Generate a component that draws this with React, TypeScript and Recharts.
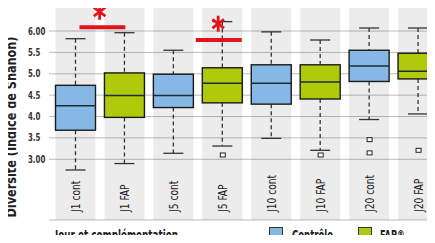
import {
  ComposedChart,
  Bar,
  Scatter,
  XAxis,
  YAxis,
  CartesianGrid,
  ReferenceLine,
  ReferenceDot,
} from "recharts";

const categories = ["J1 cont", "J1 FAP", "J5 cont", "J5 FAP", "J10 cont", "J10 FAP", "J20 cont", "J20 FAP"];
const groups = ["cont", "fap", "cont", "fap", "cont", "fap", "cont", "fap"];
const mins = [2.75, 2.9, 3.14, 3.31, 3.49, 3.21, 3.93, 4.06];
const q1s = [3.68, 3.98, 4.21, 4.32, 4.29, 4.41, 4.82, 4.88];
const medians = [4.25, 4.49, 4.49, 4.78, 4.78, 4.81, 5.18, 5.06];
const q3s = [4.73, 5.02, 4.99, 5.14, 5.21, 5.21, 5.55, 5.48];
const maxs = [5.82, 5.96, 5.55, 6.22, 5.98, 5.79, 6.07, 6.07];
const outliersA = [null, null, null, 3.1, null, 3.1, 3.46, 3.21];
const outliersB = [null, null, null, null, null, null, 3.15, null];

const yTicks = [3, 3.5, 4, 4.5, 5, 5.5, 6];
const yTickLabels = ["3.00", "3.5", "4.0", "4.5", "5.0", "5.5", "6.00"];

// significance markers, x in category units (0 = left edge of J1 cont band)
const sigBars = [
  { x1: 0.5, x2: 1.32, y: 6.087 },
  { x1: 2.58, x2: 3.4, y: 5.79 },
];
const sigStars = [
  { x: 0.86, y: 6.45 },
  { x: 2.98, y: 6.17 },
];

const legendItems = [
  { key: "cont", label: "Contrôle" },
  { key: "fap", label: "FAP®" },
];

const COLORS: Record<string, string> = { cont: "#85b8e4", fap: "#afca0b" };
const RED = "#e3131b";
const FONT = "'DejaVu Sans', sans-serif";

const data = categories.map((name, i) => ({
  name,
  group: groups[i],
  box: [q1s[i], q3s[i]],
  min: mins[i],
  q1: q1s[i],
  median: medians[i],
  q3: q3s[i],
  max: maxs[i],
  outA: outliersA[i],
  outB: outliersB[i],
}));

function BoxShape(props: any) {
  const { x, y, width, height, payload } = props;
  if (height == null || !payload) return null;
  const k = height / (payload.q3 - payload.q1);
  const yOf = (v: number) => y + (payload.q3 - v) * k;
  const cx = x + width / 2;
  const capW = 10;
  return (
    <g>
      <line x1={cx} x2={cx} y1={yOf(payload.max)} y2={y} stroke="#333" strokeWidth={1.3} strokeDasharray="4 3" />
      <line x1={cx} x2={cx} y1={y + height} y2={yOf(payload.min)} stroke="#333" strokeWidth={1.3} strokeDasharray="4 3" />
      <line x1={cx - capW} x2={cx + capW} y1={yOf(payload.max)} y2={yOf(payload.max)} stroke="#333" strokeWidth={1.3} />
      <line x1={cx - capW} x2={cx + capW} y1={yOf(payload.min)} y2={yOf(payload.min)} stroke="#333" strokeWidth={1.3} />
      <rect x={x} y={y} width={width} height={height} fill={COLORS[payload.group]} stroke="#1a1a1a" strokeWidth={1.4} />
      <line x1={x} x2={x + width} y1={yOf(payload.median)} y2={yOf(payload.median)} stroke="#1c2b38" strokeWidth={1.5} />
    </g>
  );
}

function OutlierShape(props: any) {
  const { cx, cy } = props;
  if (cx == null || cy == null || isNaN(cy)) return null;
  return <rect x={cx - 2.5} y={cy - 2} width={5} height={4} fill="#fff" stroke="#222" strokeWidth={1} />;
}

function YTick(props: any) {
  const { y, payload } = props;
  const idx = yTicks.indexOf(payload.value);
  return (
    <text
      transform={`translate(28 ${y}) scale(0.7 1)`}
      dy={3.5}
      fontSize={10}
      fontWeight="bold"
      fill="#333"
      fontFamily={FONT}
      textAnchor="start"
    >
      {yTickLabels[idx]}
    </text>
  );
}

function XTick(props: any) {
  const { x, y, payload } = props;
  return (
    <text
      transform={`translate(${x} ${y - 8}) rotate(-90) scale(0.73 1)`}
      dy={4.5}
      fontSize={12.5}
      fill="#222"
      fontFamily={FONT}
      textAnchor="start"
    >
      {payload.value}
    </text>
  );
}

function YTitle() {
  return (
    <text
      transform="translate(15.5 127) rotate(-90)"
      textAnchor="middle"
      fontSize={13.5}
      fontWeight="bold"
      fill="#222"
      fontFamily={FONT}
      textLength={181}
      lengthAdjust="spacingAndGlyphs"
    >
      Diversité (Indice de Shanon)
    </text>
  );
}

function Star(props: any) {
  const { cx, cy } = props;
  const arms = [
    [0, 8],
    [5.8, 4.3],
    [5.8, -4.3],
  ];
  return (
    <g stroke={RED} strokeWidth={2.8} strokeLinecap="butt">
      {arms.map(([dx, dy], i) => (
        <line key={i} x1={cx - dx} y1={cy - dy} x2={cx + dx} y2={cy + dy} />
      ))}
    </g>
  );
}

const legendTextLen: Record<string, number> = { cont: 41, fap: 25 };

// x-axis title plus the series key, drawn along the bottom of the svg
function BottomLabel() {
  const base = 239.5;
  return (
    <g fontFamily={FONT} fontWeight="bold" fontSize={13.5} fill="#222">
      <text x={55} y={base} textLength={123} lengthAdjust="spacingAndGlyphs">
        Jour et complémentation
      </text>
      {legendItems.map((it, i) => (
        <g key={it.key}>
          <rect x={269.5 + i * 89} y={227.5} width={13} height={12} fill={COLORS[it.key]} stroke="#333" strokeWidth={1} />
          <text x={292 + i * 88} y={base} textLength={legendTextLen[it.key]} lengthAdjust="spacingAndGlyphs">
            {it.label}
          </text>
        </g>
      ))}
    </g>
  );
}

export default function App() {
  return (
    <div style={{ margin: -8, width: 435, height: 243, overflow: "hidden", position: "relative", background: "#fff" }}>
      <ComposedChart width={443} height={243} data={data} margin={{ top: 6, right: 0, left: 0, bottom: 22 }}>
        <CartesianGrid vertical={false} stroke="#bcbcbc" strokeWidth={1} />
        <XAxis
          dataKey="name"
          type="category"
          padding={{ left: 2.5, right: 0 }}
          axisLine={false}
          tickLine={false}
          tickSize={0}
          tickMargin={0}
          height={1}
          interval={0}
          tick={<XTick />}
          label={<BottomLabel />}
        />
        <XAxis xAxisId="pos" type="number" domain={[0, 8]} padding={{ left: 2.5, right: 0 }} hide />
        <YAxis
          type="number"
          domain={[1.58, 6.585]}
          ticks={yTicks}
          interval={0}
          width={49}
          axisLine={false}
          tickLine={false}
          tick={<YTick />}
          label={<YTitle />}
          allowDataOverflow
        />
        <Bar dataKey="box" barSize={40} background={{ fill: "rgba(0,0,0,0.075)" }} shape={<BoxShape />} isAnimationActive={false} />
        <Scatter dataKey="outA" shape={<OutlierShape />} isAnimationActive={false} />
        <Scatter dataKey="outB" shape={<OutlierShape />} isAnimationActive={false} />
        {sigBars.map((s, i) => (
          <ReferenceLine
            key={`bar${i}`}
            xAxisId="pos"
            segment={[{ x: s.x1, y: s.y }, { x: s.x2, y: s.y }]}
            stroke={RED}
            strokeWidth={4}
          />
        ))}
        {sigStars.map((s, i) => (
          <ReferenceDot key={`star${i}`} xAxisId="pos" x={s.x} y={s.y} r={0} shape={<Star />} />
        ))}
      </ComposedChart>
    </div>
  );
}
